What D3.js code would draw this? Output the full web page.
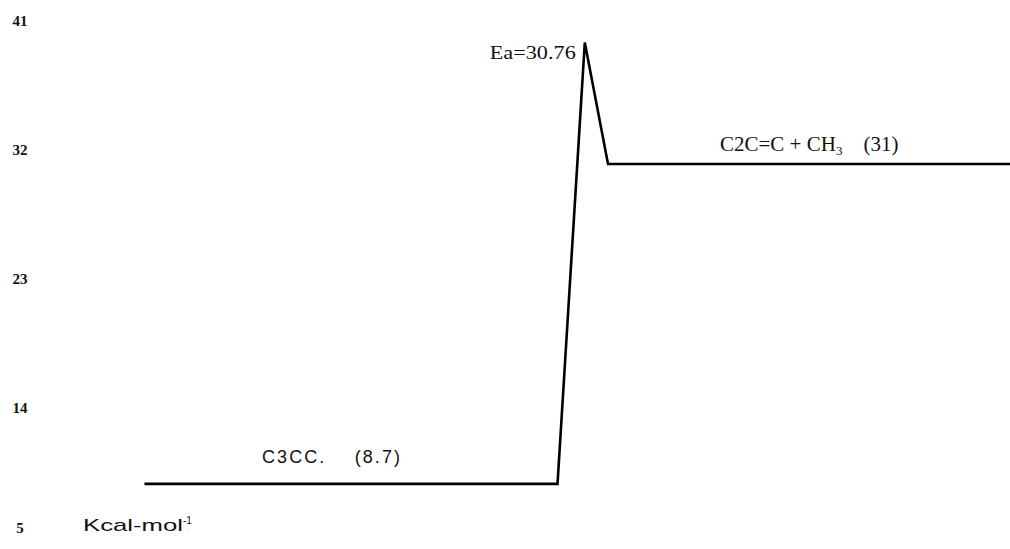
<!DOCTYPE html>
<html><head><meta charset="utf-8">
<script src="https://cdn.jsdelivr.net/npm/d3@7"></script>
<style>
html,body{margin:0;padding:0;background:#fff;}
svg{display:block;}
</style></head>
<body>
<script>
// Energy levels (kcal/mol) along reaction coordinate
const yTicks = [5, 14, 23, 32, 41];
const pathCoord = [1.43, 5.52, 5.79, 6.02, 10];        // reaction coordinate
const pathEnergy = [8.7, 8.7, 39.46, 31, 31];           // energy of each path vertex
const labels = ["C3CC.", "Ea=30.76", "C2C=C + CH"];
const labelValues = ["(8.7)", "", "(31)"];
const unitLabel = "Kcal-mol";

const W = 1010, H = 549;
const svg = d3.select("body").append("svg").attr("width", W).attr("height", H);

const x = d3.scaleLinear().domain([0, 10]).range([0, W]);
const y = d3.scaleLinear().domain([5, 41]).range([537, 20.5]);

const serif = "'Liberation Serif', 'Times New Roman', serif";
const sans = "'Liberation Sans', Arial, sans-serif";

// y axis labels only
const ax = svg.append("g").attr("transform", "translate(20,0)")
  .call(d3.axisLeft(y).tickValues(yTicks).tickSize(0).tickPadding(0).tickFormat(d3.format("d")));
ax.select(".domain").remove();
ax.selectAll("text").attr("text-anchor", "middle")
  .style("font-family", serif).style("font-size", "15px")
  .style("font-weight", "bold").attr("fill", "#111")
  .attr("dy", d => d === 5 ? "-0.3em" : "0.32em");

// Energy path
const pts = pathCoord.map((c, i) => [c, pathEnergy[i]]);
svg.append("path").datum(pts)
  .attr("d", d3.line().x(d => x(d[0])).y(d => y(d[1])))
  .attr("fill", "none").attr("stroke", "#000").attr("stroke-width", 2.6)
  .attr("stroke-linejoin", "miter");

// Reactant label
svg.append("text").attr("x", 262).attr("y", y(8.7) - 21)
  .style("font-family", sans).style("font-size", "18px").attr("fill", "#111")
  .attr("textLength", 138).attr("lengthAdjust", "spacing")
  .text(labels[0] + "\u00a0\u00a0\u00a0\u00a0" + labelValues[0]);

// Ea label
svg.append("text").attr("x", x(pathCoord[2]) - 9).attr("y", y(39.46) + 16)
  .attr("text-anchor", "end")
  .style("font-family", serif).style("font-size", "19px").attr("fill", "#111")
  .attr("textLength", 86).attr("lengthAdjust", "spacingAndGlyphs")
  .text(labels[1]);

// Product label
const pt = svg.append("text").attr("x", 720).attr("y", y(31) - 13)
  .style("font-family", serif).style("font-size", "21px").attr("fill", "#111");
pt.append("tspan").text(labels[2]);
pt.append("tspan").attr("dy", 4).style("font-size", "13px").text("3");
pt.append("tspan").attr("dy", -4).text("\u00a0\u00a0\u00a0\u00a0" + labelValues[2]);

// Unit label
const ut = svg.append("text").attr("x", 83).attr("y", y(5) - 6)
  .style("font-family", sans).style("font-size", "17px").attr("fill", "#111");
ut.append("tspan").attr("textLength", 100).attr("lengthAdjust", "spacingAndGlyphs").text(unitLabel);
ut.append("tspan").attr("dy", -7).style("font-size", "10px").text("-1");
</script>
</body></html>
